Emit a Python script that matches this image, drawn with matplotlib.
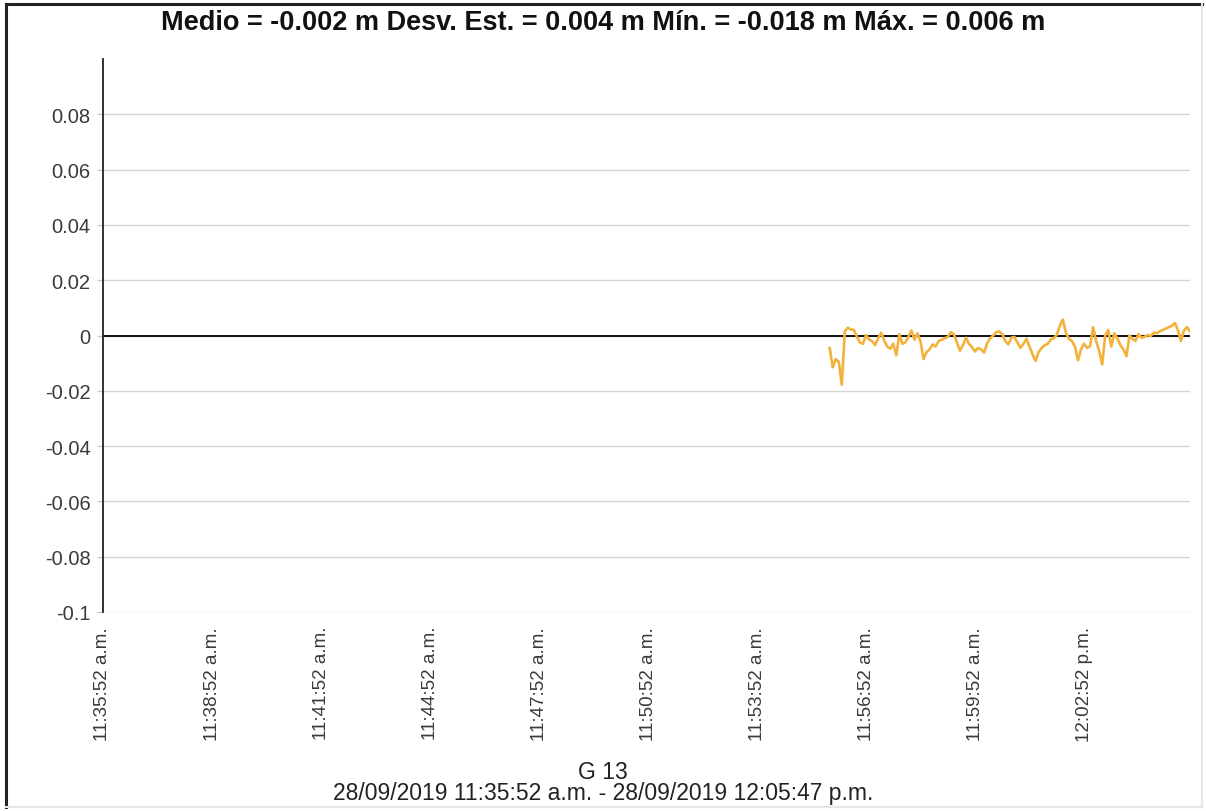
import datetime as dt
import matplotlib
matplotlib.use('Agg')
import matplotlib.pyplot as plt
import matplotlib.dates as mdates
from matplotlib.lines import Line2D

# desplazamiento G 13 [m], una muestra cada 5 s desde las 11:55:52
sample_start = dt.datetime(2019, 9, 28, 11, 55, 52)
sample_step_s = 5
values = [
    -0.0045, -0.0115, -0.0085, -0.0095, -0.0178, 0.0015, 0.0028, 0.0022, 0.0020, -0.0005,
    -0.0025, -0.0030, 0.0002, -0.0015, -0.0020, -0.0035, -0.0010, 0.0010, -0.0018, -0.0040,
    -0.0048, -0.0030, -0.0072, 0.0005, -0.0030, -0.0025, -0.0005, 0.0018, -0.0015, 0.0008,
    -0.0022, -0.0085, -0.0060, -0.0050, -0.0032, -0.0040, -0.0020, -0.0015, -0.0010, -0.0005,
    0.0012, 0.0005, -0.0025, -0.0055, -0.0035, -0.0008, -0.0030, -0.0042, -0.0058, -0.0045,
    -0.0050, -0.0062, -0.0028, -0.0010, 0.0000, 0.0012, 0.0015, 0.0005, -0.0020, -0.0032,
    -0.0008, -0.0005, -0.0025, -0.0045, -0.0030, -0.0012, -0.0040, -0.0068, -0.0092, -0.0060,
    -0.0045, -0.0035, -0.0030, -0.0015, -0.0010, 0.0002, 0.0035, 0.0058, 0.0010, -0.0012,
    -0.0020, -0.0040, -0.0090, -0.0050, -0.0030, -0.0045, -0.0038, 0.0030, -0.0020, -0.0055,
    -0.0105, 0.0000, 0.0020, -0.0040, 0.0008, -0.0010, -0.0035, -0.0050, -0.0075, 0.0000,
    -0.0012, -0.0020, 0.0005, -0.0008, -0.0005, 0.0002, -0.0002, 0.0010, 0.0008, 0.0015,
    0.0020, 0.0025, 0.0030, 0.0035, 0.0045, 0.0020, -0.0020, 0.0018, 0.0030, 0.0015,
]
times = [sample_start + dt.timedelta(seconds=sample_step_s * i) for i in range(len(values))]

x_start = dt.datetime(2019, 9, 28, 11, 35, 52)
x_end = dt.datetime(2019, 9, 28, 12, 5, 47)
x_tick_times = ['11:35:52', '11:38:52', '11:41:52', '11:44:52', '11:47:52',
                '11:50:52', '11:53:52', '11:56:52', '11:59:52', '12:02:52']
x_tick_labels = ['11:35:52 a.m.', '11:38:52 a.m.', '11:41:52 a.m.', '11:44:52 a.m.',
                 '11:47:52 a.m.', '11:50:52 a.m.', '11:53:52 a.m.', '11:56:52 a.m.',
                 '11:59:52 a.m.', '12:02:52 p.m.']
y_ticks = [-0.1, -0.08, -0.06, -0.04, -0.02, 0, 0.02, 0.04, 0.06, 0.08]
y_tick_labels = ['-0.1', '-0.08', '-0.06', '-0.04', '-0.02', '0', '0.02', '0.04', '0.06', '0.08']

title = 'Medio = -0.002 m Desv. Est. = 0.004 m Mín. = -0.018 m Máx. = 0.006 m'
point_name = 'G 13'
period = '28/09/2019 11:35:52 a.m. - 28/09/2019 12:05:47 p.m.'

plt.rcParams['font.family'] = ['Liberation Sans', 'DejaVu Sans']

fig = plt.figure(figsize=(12.06, 8.12), dpi=100)
ax = fig.add_axes([103 / 1206, 1 - 613 / 812, (1190 - 103) / 1206, (613 - 60) / 812])

ax.plot(times, values, color='#F2B23C', lw=1.9, zorder=3)
ax.axhline(0, color='black', lw=1.3, zorder=2)

ax.set_xlim(x_start, x_end)
ax.set_ylim(-0.1, 0.1)

tick_dates = [dt.datetime.combine(x_start.date(), dt.datetime.strptime(t, '%H:%M:%S').time())
              for t in x_tick_times]
ax.set_xticks(mdates.date2num(tick_dates))
ax.set_xticklabels(x_tick_labels, rotation=90, fontsize=13.5, color='#3a3a3a')
ax.tick_params(axis='x', length=0, pad=10)

ax.set_yticks(y_ticks)
ax.set_yticklabels(y_tick_labels, fontsize=14.5, color='#3a3a3a')
ax.tick_params(axis='y', length=4, width=1, color='#c8c8c8', pad=5)

ax.grid(axis='y', color='#d5d5d5', lw=1)
ax.set_axisbelow(True)
for side in ['top', 'right', 'bottom']:
    ax.spines[side].set_visible(False)
ax.spines['left'].set_color('#222222')
ax.spines['left'].set_linewidth(1.3)
ax.spines['left'].set_bounds(-0.1, 0.1)

fig.text(0.5, 1 - 23 / 812, title, ha='center', va='center', fontsize=19.5,
         fontweight='bold', color='#111111')
fig.text(0.5, 1 - 773 / 812, point_name, ha='center', va='center', fontsize=16.5, color='#222222')
fig.text(0.5, 1 - 794 / 812, period, ha='center', va='center', fontsize=16.5, color='#222222')

# marco hundido alrededor de la figura
fig.add_artist(Line2D([6 / 1206, 6 / 1206], [1 - 808 / 812, 1 - 5 / 812], color='#222222', lw=2.2))
fig.add_artist(Line2D([6 / 1206, 1202 / 1206], [1 - 5 / 812, 1 - 5 / 812], color='#222222', lw=2.2))
fig.add_artist(Line2D([1202 / 1206, 1202 / 1206], [1 - 808 / 812, 1 - 5 / 812], color='#e6e6e6', lw=1.5))
fig.add_artist(Line2D([6 / 1206, 1202 / 1206], [1 - 808 / 812, 1 - 808 / 812], color='#e6e6e6', lw=1.5))

fig.savefig('out.png', dpi=100)
